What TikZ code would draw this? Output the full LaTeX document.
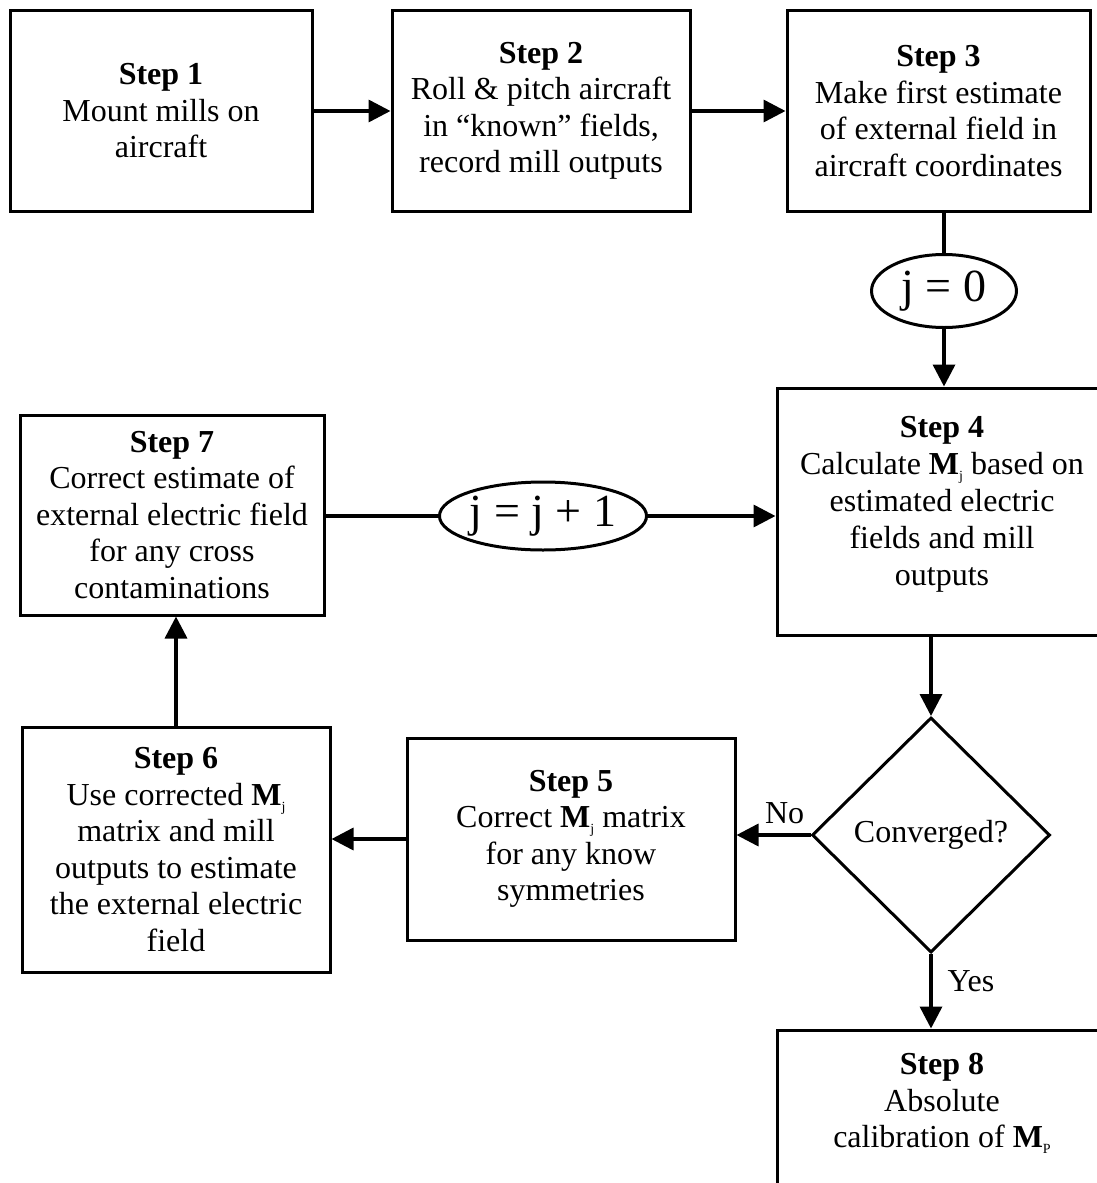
\documentclass[tikz,border=0pt]{standalone}
\usepackage{fontspec}
\setmainfont{Liberation Serif}
\usetikzlibrary{arrows.meta,shapes.geometric}
\newcommand{\Mj}[1]{\textbf{M}\raisebox{-0.4ex}{\fontsize{14}{14}\selectfont #1}}
\begin{document}
\begin{tikzpicture}[x=1pt,y=-1pt,
  box/.style={draw,line width=3pt,rectangle,inner sep=0pt,align=center,font=\fontsize{32}{36.5}\selectfont},
  oval/.style={draw,line width=3pt,ellipse,inner sep=0pt,font=\fontsize{46}{50}\selectfont},
  decide/.style={draw,line width=3pt,diamond,inner sep=0pt,font=\fontsize{32}{36}\selectfont},
  conn/.style={line width=3.5pt},
  arr/.style={line width=3.5pt,-{Triangle[length=22pt,width=22pt]}},
  lbl/.style={font=\fontsize{32}{36}\selectfont}]
\useasboundingbox (0,0) rectangle (1096,1183);
\node[box,minimum width=302pt,minimum height=201pt] (s1) at (161,111)
  {\textbf{Step 1}\\Mount mills on\\aircraft};
\node[box,minimum width=298pt,minimum height=201pt] (s2) at (541,111)
  {\textbf{Step 2}\\Roll \& pitch aircraft\\in “known” fields,\\record mill outputs};
\node[box,minimum width=303pt,minimum height=201pt] (s3) at (938.5,111)
  {\textbf{Step 3}\\Make first estimate\\of external field in\\aircraft coordinates};
\node[oval,minimum width=145pt,minimum height=73pt] (j0) at (944,291) {j = 0};
\node[box,minimum width=331pt,minimum height=247pt] (s4) at (942.5,511.5) {};
\node[align=center,font=\fontsize{32}{37}\selectfont] (t4) at (942,504)
  {\textbf{Step 4}\\Calculate \Mj{j} based on\\estimated electric\\fields and mill\\outputs};
\node[box,minimum width=304pt,minimum height=200pt] (s7) at (172,515)
  {\textbf{Step 7}\\Correct estimate of\\external electric field\\for any cross\\contaminations};
\node[oval,minimum width=200pt,minimum height=68pt] (jj) at (543,516) {j = j + 1};
\node[decide,minimum width=238pt,minimum height=235pt] (d) at (931,835) {Converged?};
\node[box,minimum width=328pt,minimum height=202pt] (s5) at (571,839)
  {\textbf{Step 5}\\Correct \Mj{j} matrix\\for any know\\symmetries};
\node[box,minimum width=308pt,minimum height=245pt] (s6) at (176,849.5)
  {\textbf{Step 6}\\Use corrected \Mj{j}\\matrix and mill\\outputs to estimate\\the external electric\\field};
\node[box,minimum width=331pt,minimum height=170pt] (s8) at (942.5,1115) {};
\node[align=center,font=\fontsize{32}{36.5}\selectfont,anchor=north] (t8) at (942,1050)
  {\textbf{Step 8}\\Absolute\\calibration of \Mj{P}};
\draw[arr] (s1.east) -- (s2.west);
\draw[arr] (s2.east) -- (s3.west);
\draw[conn] (j0.north |- s3.south) -- (j0.north);
\draw[arr] (j0.south) -- (j0.south |- s4.north);
\draw[conn] (s7.east |- jj.west) -- (jj.west);
\draw[arr] (jj.east) -- (jj.east -| s4.west);
\draw[arr] (d.north |- s4.south) -- (d.north);
\draw[arr] (d.west) -- (d.west -| s5.east) node[lbl,pos=0.35,yshift=22pt] {No};
\draw[arr] (s5.west) -- (s5.west -| s6.east);
\draw[arr] (s6.north) -- (s6.north |- s7.south);
\draw[arr] (d.south) -- (d.south |- s8.north) node[lbl,pos=0.36,xshift=40pt] {Yes};
\end{tikzpicture}
\end{document}
